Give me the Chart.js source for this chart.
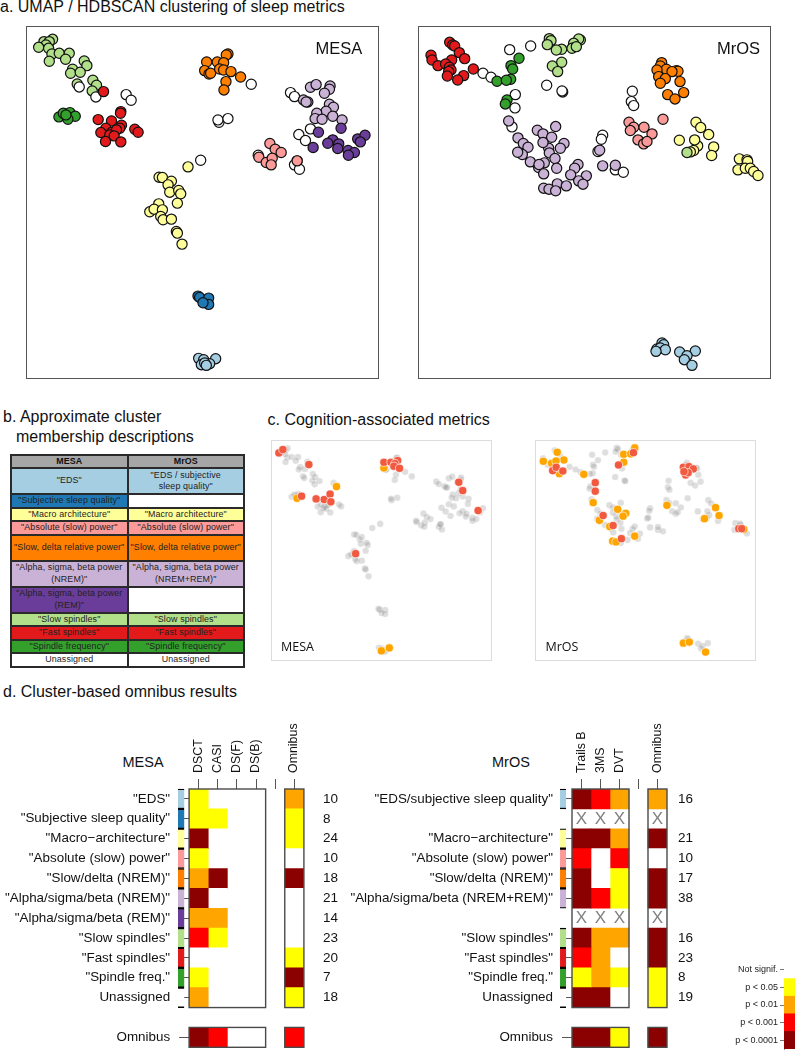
<!DOCTYPE html>
<html>
<head>
<meta charset="utf-8">
<title>Sleep metric clusters</title>
<script src="https://cdn.jsdelivr.net/npm/chart.js@4"></script>
<style>
  html, body { margin: 0; padding: 0; background: #fff; overflow: hidden; }
  body { width: 795px; height: 1050px; position: relative; font-family: "Liberation Sans", Arial, sans-serif; color: #111; }
  .txt { position: absolute; white-space: nowrap; line-height: 1; }
  .head { font-size: 16px; }
  .box { position: absolute; box-sizing: border-box; }
  canvas { position: absolute; }
  #members { position: absolute; left: 10px; top: 453.5px; width: 235px; border-collapse: collapse; table-layout: fixed; font-size: 8.9px; letter-spacing: 0.12px; }
  #members td, #members th { border: 2px solid #2a2a2a; padding: 0; text-align: center; line-height: 11.5px; height: 11px; color: #222; }
  #members th { background: #a6a6a6; font-weight: bold; color: #111; }
  #members tr.tall td { height: 24px; }
</style>
</head>
<body>
<div class="txt head" style="left:0;top:-1px">a. UMAP / HDBSCAN clustering of sleep metrics</div>
<div class="txt head" style="left:3px;top:409px">b. Approximate cluster</div>
<div class="txt head" style="left:16px;top:429px">membership descriptions</div>
<div class="txt head" style="left:267.5px;top:412px">c. Cognition-associated metrics</div>
<div class="txt head" style="left:3px;top:684px">d. Cluster-based omnibus results</div>

<div class="box" style="left:25.5px;top:25.5px;width:353.5px;height:353.5px;border:1.3px solid #555"></div>
<div class="box" style="left:417.5px;top:25.5px;width:353.5px;height:353.5px;border:1.3px solid #555"></div>
<canvas id="mesaMap" width="352" height="352" style="left:26px;top:26px"></canvas>
<canvas id="mrosMap" width="353" height="352" style="left:418px;top:26px"></canvas>
<div class="txt" style="left:315.5px;top:40px;font-size:16.5px">MESA</div>
<div class="txt" style="left:717px;top:40px;font-size:16.5px">MrOS</div>

<table id="members"></table>

<div class="box" style="left:270.5px;top:439.5px;width:221px;height:221px;border:1px solid #dcdcdc"></div>
<div class="box" style="left:534.5px;top:439.5px;width:221px;height:221px;border:1px solid #dcdcdc"></div>
<canvas id="mesaCog" width="220" height="220" style="left:271px;top:440px"></canvas>
<canvas id="mrosCog" width="220" height="220" style="left:535px;top:440px"></canvas>
<div class="txt" style="left:281px;top:641px;font-size:12.5px;font-family:'Open Sans'">MESA</div>
<div class="txt" style="left:545.5px;top:641px;font-size:12.5px;font-family:'Open Sans'">MrOS</div>

<div class="txt" style="left:122.5px;top:755px;font-size:14.5px">MESA</div>
<div class="txt" style="left:492px;top:755px;font-size:14.5px">MrOS</div>
<canvas id="mesaHeat" width="360" height="378" style="left:0;top:700px"></canvas>
<canvas id="mrosHeat" width="430" height="378" style="left:330px;top:700px"></canvas>
<canvas id="pLegend" width="120" height="110" style="left:690px;top:950px"></canvas>

<script>
// Map coordinates (same units for panels a and c)
const mesaLightGreen = [[232,252],[132,125],[158,118],[148,125],[138,135],[116,142],[146,145],[156,162],[178,160],[208,160],[148,184],[197,178],[253,183],[261,197],[218,208],[212,220],[241,217],[279,241],[290,256],[277,273]];
const mesaWhite = [[238,261],[288,291],[379,284],[394,301],[755,253],[658,367],[655,360],[685,356],[603,481],[776,466],[873,278],[885,290],[933,387],[898,404],[918,422],[893,483],[885,495],[900,508]];
const mesaRed = [[311,275],[295,359],[363,335],[362,340],[335,363],[318,385],[303,398],[365,376],[360,385],[335,398],[350,390],[330,405],[343,408],[317,425],[363,426],[405,388],[415,397]];
const mesaDarkGreen = [[177,351],[190,340],[210,338],[226,349],[204,358],[198,345]];
const mesaOrange = [[685,162],[621,186],[615,212],[628,222],[633,220],[653,186],[680,165],[672,188],[660,207],[672,210],[694,215],[723,231],[679,245],[673,270]];
const mesaLilac = [[933,262],[950,254],[992,258],[990,268],[975,280],[912,300],[925,306],[920,306],[990,313],[1002,322],[980,334],[952,340],[947,356],[968,358],[1000,349],[1028,360]];
const mesaPurple = [[1025,385],[957,397],[1000,420],[985,430],[1018,432],[1015,446],[941,443],[1046,452],[1065,458],[1047,466],[1075,417],[1097,406],[1083,426]];
const mesaPink = [[811,431],[827,448],[845,458],[778,472],[800,488],[818,475],[815,495],[893,483]];
const mesaYellow = [[565,501],[478,532],[488,533],[515,544],[505,555],[510,577],[537,572],[543,582],[533,610],[477,612],[450,636],[463,628],[488,630],[483,650],[490,660],[515,658],[530,695],[533,700],[547,733]];
const mesaBlue = [[595,889],[600,893],[627,895],[627,914],[610,909]];
const mesaLightBlue = [[597,1076],[612,1080],[648,1077],[630,1092],[605,1095],[615,1090],[620,1097]];

const mrosRed = [[148,127],[157,135],[163,138],[177,158],[92,166],[95,180],[193,176],[154,180],[113,197],[136,192],[147,202],[152,210],[145,215],[141,228],[190,227],[172,240],[219,207]];
const mrosWhite = [[328,149],[391,138],[248,220],[272,232],[345,284],[344,324],[335,381],[439,256],[487,276],[485,273],[696,274],[693,305],[700,317],[607,406],[603,418],[593,455],[645,510],[669,517]];
const mrosDarkGreen = [[356,175],[332,197],[337,207],[331,238],[290,244],[318,241],[320,300],[315,312]];
const mrosLightGreen = [[447,116],[452,122],[441,134],[484,148],[468,150],[540,120],[535,117],[520,130],[515,145],[528,140],[484,187],[456,198],[472,215]];
const mrosOrange = [[784,188],[780,198],[798,208],[770,210],[828,212],[833,214],[815,215],[775,230],[795,236],[780,250],[839,245],[850,278],[802,284],[824,297]];
const mrosPink = [[686,367],[700,382],[690,392],[731,382],[788,358],[755,402],[713,420],[730,432],[740,425]];
const mrosYellow = [[887,367],[901,383],[925,404],[837,421],[892,438],[883,420],[880,452],[870,456],[940,441],[934,467],[1017,477],[1040,480],[1042,485],[1013,510],[1035,505],[1050,505],[1060,515],[1073,527]];
const mrosYellowGreen = [[860,458]];
const mrosLilac = [[325,363],[411,391],[466,380],[428,402],[454,412],[353,414],[369,431],[383,442],[445,445],[428,428],[491,431],[480,445],[366,464],[352,457],[447,459],[464,476],[390,486],[432,489],[415,503],[416,494],[469,505],[430,522],[533,494],[523,505],[511,525],[558,528],[535,543],[548,553],[598,451],[607,498],[645,496],[471,552],[498,558],[430,565],[446,568],[466,573]];
const mrosLightBlue = [[785,1030],[790,1035],[770,1048],[780,1045],[795,1050],[767,1055],[838,1057],[885,1054],[860,1068],[852,1080],[875,1097]];

// Cognition-associated points in panel c
const mesaCogOrange = [[393,302],[203,358],[621,212],[609,1091],[647,1077]];
const mesaCogRed = [[116,140],[135,124],[260,196],[225,348],[295,361],[334,364],[362,338],[366,375],[485,624],[621,185],[655,185],[687,177],[674,191],[669,204],[696,214],[981,281],[1000,321],[1074,417]];
const mrosCogOrange = [[93,180],[160,137],[192,174],[133,190],[154,179],[170,240],[288,243],[333,379],[451,411],[490,430],[477,444],[363,464],[413,494],[427,564],[443,568],[533,540],[688,392],[922,403],[939,441],[869,456],[480,147],[480,185],[533,116],[514,145],[767,1054],[796,1049],[874,1097],[1058,507]];
const mrosCogRed = [[343,283],[343,324],[455,198],[527,139],[381,441],[429,489],[469,552],[138,225],[155,209],[187,227],[767,209],[794,206],[815,217],[778,246],[790,235],[770,230],[1034,504],[1048,504]];

// Cluster colours
const clrLightBlue = '#a6cee3', clrBlue = '#1f78b4', clrYellow = '#ffff99', clrPink = '#fb9a99', clrOrange = '#ff7f00';
const clrLilac = '#cab2d6', clrPurple = '#6a3d9a', clrLightGreen = '#b2df8a', clrRed = '#e31a1c', clrGreen = '#33a02c';

// Panel b table: [MESA text, MESA colour, MrOS text, MrOS colour, tall row]
const memberRows = [
  ['"EDS"', clrLightBlue, '"EDS / subjective<br>sleep quality"', clrLightBlue, true],
  ['"Subjective sleep quality"', clrBlue, '', '#fff', false],
  ['"Macro architecture"', clrYellow, '"Macro architecture"', clrYellow, false],
  ['"Absolute (slow) power"', clrPink, '"Absolute (slow) power"', clrPink, false],
  ['"Slow, delta relative power"', clrOrange, '"Slow, delta relative power"', clrOrange, true],
  ['"Alpha, sigma, beta power<br>(NREM)"', clrLilac, '"Alpha, sigma, beta power<br>(NREM+REM)"', clrLilac, true],
  ['"Alpha, sigma, beta power<br>(REM)"', clrPurple, '', '#fff', true],
  ['"Slow spindles"', clrLightGreen, '"Slow spindles"', clrLightGreen, false],
  ['"Fast spindles"', clrRed, '"Fast spindles"', clrRed, false],
  ['"Spindle frequency"', clrGreen, '"Spindle frequency"', clrGreen, false],
  ['Unassigned', '#fff', 'Unassigned', '#fff', false]
];

// Panel d: significance level per row (0 none, 1 p<.05, 2 p<.01, 3 p<.001, 4 p<.0001, null = no cell)
const mesaRows = ['"EDS"', '"Subjective sleep quality"', '"Macro\u2212architecture"', '"Absolute (slow) power"', '"Slow/delta (NREM)"', '"Alpha/sigma/beta (NREM)"', '"Alpha/sigma/beta (REM)"', '"Slow spindles"', '"Fast spindles"', '"Spindle freq."', 'Unassigned', '', 'Omnibus'];
const mesaCounts = ['10', '8', '24', '10', '18', '21', '14', '23', '20', '7', '18', '', ''];
const mesaColumns = ['DSCT', 'CASI', 'DS(F)', 'DS(B)', '', 'Omnibus'];
const mesaDSCT = [1, 1, 4, 1, 2, 4, 2, 3, 0, 1, 2, null, 4];
const mesaCASI = [0, 1, 0, 0, 4, 0, 2, 1, 0, 0, 0, null, 3];
const mesaDSF = [0, 0, 0, 0, 0, 0, 0, 0, 0, 0, 0, null, 0];
const mesaDSB = [0, 0, 0, 0, 0, 0, 0, 0, 0, 0, 0, null, 0];
const mesaOmnibus = [2, 1, 1, 0, 4, 0, 0, 0, 1, 4, 1, null, 3];
const mesaStrip = [clrLightBlue, clrBlue, clrYellow, clrPink, clrOrange, clrLilac, clrPurple, clrLightGreen, clrRed, clrGreen, '#fff', null, null];

const mrosRows = ['"EDS/subjective sleep quality"', '', '"Macro\u2212architecture"', '"Absolute (slow) power"', '"Slow/delta (NREM)"', '"Alpha/sigma/beta (NREM+REM)"', '', '"Slow spindles"', '"Fast spindles"', '"Spindle freq."', 'Unassigned', '', 'Omnibus'];
const mrosCounts = ['16', '', '21', '10', '17', '38', '', '16', '23', '8', '19', '', ''];
const mrosColumns = ['Trails B', '3MS', 'DVT', '', 'Omnibus'];
const mrosTrails = [4, null, 4, 3, 4, 4, null, 4, 3, 1, 4, null, 4];
const mros3MS = [3, null, 4, 0, 0, 3, null, 2, 2, 2, 4, null, 4];
const mrosDVT = [2, null, 2, 3, 1, 1, null, 2, 0, 1, 0, null, 1];
const mrosOmnibus = [2, null, 4, 0, 4, 4, null, 4, 4, 1, 1, null, 4];
const mrosStrip = [clrLightBlue, null, clrYellow, clrPink, clrOrange, clrLilac, null, clrLightGreen, clrRed, clrGreen, '#fff', null, null];
const mrosMissingRows = [1, 6];

const pLabels = ['Not signif.', 'p < 0.05', 'p < 0.01', 'p < 0.001', 'p < 0.0001'];
const pColors = ['#ffffff', '#ffff00', '#ffa500', '#ff0000', '#8b0000'];

const baseFont = '"Liberation Sans", Arial, sans-serif';

// Panel b
document.getElementById('members').innerHTML =
  '<tr><th>MESA</th><th>MrOS</th></tr>' +
  memberRows.map(r => `<tr class="${r[4] ? 'tall' : ''}"><td style="background:${r[1]}">${r[0]}</td><td style="background:${r[3]}">${r[2]}</td></tr>`).join('');

function xy(list) {
  return list.map(p => ({ x: p[0], y: p[1] }));
}

function mapOptions(xMin, xMax) {
  return {
    responsive: false,
    animation: false,
    layout: { padding: 0, autoPadding: false },
    plugins: { legend: { display: false }, tooltip: { enabled: false } },
    scales: {
      x: { type: 'linear', min: xMin, max: xMax, display: false },
      y: { type: 'linear', min: 78, max: 1135, reverse: true, display: false }
    }
  };
}

// Panel a (clusters listed bottom to top, the library draws dataset 0 last)
function clusterChart(id, xMin, xMax, clusters) {
  new Chart(document.getElementById(id), {
    type: 'scatter',
    data: {
      datasets: clusters.slice().reverse().map(c => ({
        data: xy(c[0]),
        backgroundColor: c[1],
        borderColor: '#111',
        borderWidth: 1.2,
        pointRadius: 5.1,
        clip: false
      }))
    },
    options: mapOptions(xMin, xMax)
  });
}

clusterChart('mesaMap', 78, 1136, [
  [mesaLightGreen, clrLightGreen], [mesaWhite, '#fff'], [mesaRed, clrRed], [mesaDarkGreen, clrGreen],
  [mesaOrange, clrOrange], [mesaLilac, clrLilac], [mesaPurple, clrPurple], [mesaPink, clrPink],
  [mesaYellow, clrYellow], [mesaBlue, clrBlue], [mesaLightBlue, clrLightBlue]
]);
clusterChart('mrosMap', 53, 1112, [
  [mrosWhite, '#fff'], [mrosRed, clrRed], [mrosDarkGreen, clrGreen], [mrosLightGreen, clrLightGreen],
  [mrosOrange, clrOrange], [mrosPink, clrPink], [mrosYellow, clrYellow], [mrosYellowGreen, clrLightGreen],
  [mrosLilac, clrLilac], [mrosLightBlue, clrLightBlue]
]);

// Panel c
function cognitionChart(id, xMin, xMax, background, orange, red) {
  new Chart(document.getElementById(id), {
    type: 'scatter',
    data: {
      datasets: [
        { data: xy(red), backgroundColor: '#f15a40', borderColor: 'rgba(255,255,255,0.9)', borderWidth: 0.7, pointRadius: 4.1 },
        { data: xy(orange), backgroundColor: '#ffa500', borderColor: 'rgba(255,255,255,0.9)', borderWidth: 0.7, pointRadius: 4.1 },
        { data: xy(background), backgroundColor: 'rgba(105,105,105,0.22)', borderColor: 'rgba(255,255,255,0.5)', borderWidth: 0.5, pointRadius: 3.3 }
      ]
    },
    options: mapOptions(xMin, xMax)
  });
}

cognitionChart('mesaCog', 78, 1136,
  [].concat(mesaLightGreen, mesaWhite, mesaRed, mesaDarkGreen, mesaOrange, mesaLilac, mesaPurple, mesaPink, mesaYellow, mesaBlue, mesaLightBlue),
  mesaCogOrange, mesaCogRed);
cognitionChart('mrosCog', 53, 1112,
  [].concat(mrosWhite, mrosRed, mrosDarkGreen, mrosLightGreen, mrosOrange, mrosPink, mrosYellow, mrosYellowGreen, mrosLilac, mrosLightBlue),
  mrosCogOrange, mrosCogRed);

// Outlines and X marks of the heatmaps
const heatOverlay = {
  id: 'heatOverlay',
  afterDatasetsDraw(chart, args, opts) {
    const { ctx, scales: { x, y } } = chart;
    ctx.save();
    ctx.strokeStyle = '#4a4a4a';
    ctx.lineWidth = 1.4;
    opts.blocks.forEach(b => {
      const left = x.getPixelForValue(b[0]), right = x.getPixelForValue(b[1]);
      const top = y.getPixelForValue(b[2] - 0.5), bottom = y.getPixelForValue(b[3] - 0.5);
      ctx.strokeRect(left, top, right - left, bottom - top);
    });
    ctx.fillStyle = '#808080';
    ctx.font = '17px ' + baseFont;
    ctx.textAlign = 'center';
    ctx.textBaseline = 'middle';
    opts.missing.forEach(row => {
      opts.dataColumns.forEach(col => {
        ctx.fillText('X', x.getPixelForValue(col + 0.5), y.getPixelForValue(row) + 0.5);
      });
    });
    ctx.restore();
  }
};

// Panel d
function heatChart(id, cfg) {
  const cellSets = cfg.columns.map(col => ({
    data: col.values.map(v => (v === null ? null : [col.at, col.at + 1])),
    backgroundColor: col.values.map(v => (v === null ? '#fff' : pColors[v])),
    borderWidth: 0
  }));
  const stripSet = {
    data: cfg.strip.map(c => (c ? cfg.stripRange : null)),
    backgroundColor: cfg.strip,
    borderColor: '#000',
    borderWidth: { top: 1.4, bottom: 1.4, left: 0, right: 0 },
    borderSkipped: false,
    clip: false
  };
  new Chart(document.getElementById(id), {
    type: 'bar',
    data: { labels: cfg.rows, datasets: [stripSet].concat(cellSets) },
    plugins: [heatOverlay],
    options: {
      indexAxis: 'y',
      responsive: false,
      animation: false,
      // the count axis padding also reserves room under the plot, so the canvas runs past the page bottom
      layout: { padding: { top: 0, bottom: 30.7, left: 0, right: 0 } },
      datasets: { bar: { barPercentage: 1, categoryPercentage: 1, grouped: false } },
      plugins: {
        legend: { display: false },
        tooltip: { enabled: false },
        heatOverlay: { blocks: cfg.blocks, missing: cfg.missing, dataColumns: cfg.dataColumns }
      },
      scales: {
        x: {
          type: 'linear',
          position: 'top',
          min: 0,
          max: cfg.labels.length,
          afterFit: s => { s.height = 89; },
          afterBuildTicks: s => { s.ticks = cfg.labels.map((l, i) => ({ value: i + 0.5 })); },
          border: { display: false },
          grid: { drawOnChartArea: false, tickLength: 10, tickColor: '#555', tickWidth: 1 },
          ticks: {
            autoSkip: false,
            minRotation: 90,
            maxRotation: 90,
            padding: 6,
            labelOffset: 14.5,
            color: '#111',
            font: { family: baseFont, size: 12.4 },
            callback: (v, i) => cfg.labels[i]
          }
        },
        y: {
          type: 'category',
          position: 'left',
          offset: true,
          afterFit: s => { s.width = cfg.left; },
          border: { display: false },
          grid: {
            offset: false,
            drawOnChartArea: false,
            tickLength: 10,
            tickWidth: 1,
            tickColor: c => (cfg.rows[c.index] ? '#555' : 'rgba(0,0,0,0)')
          },
          ticks: { autoSkip: false, padding: 9, color: '#111', font: { family: baseFont, size: 13.4 } }
        },
        y2: {
          type: 'category',
          labels: cfg.counts,
          position: 'right',
          offset: true,
          afterFit: s => { s.width = cfg.right; },
          border: { display: false },
          grid: { display: false, drawTicks: false, offset: false },
          ticks: { autoSkip: false, padding: cfg.countPad, color: '#111', font: { family: baseFont, size: 13.5 } }
        }
      }
    }
  });
}

heatChart('mesaHeat', {
  rows: mesaRows,
  counts: mesaCounts,
  labels: mesaColumns,
  left: 189.1,
  right: 56.1,
  countPad: 19,
  strip: mesaStrip,
  stripRange: [-0.58, -0.25],
  missing: [],
  dataColumns: [],
  blocks: [[0, 4, 0, 11], [0, 4, 12, 13], [5, 6, 0, 11], [5, 6, 12, 13]],
  columns: [
    { at: 0, values: mesaDSCT }, { at: 1, values: mesaCASI }, { at: 2, values: mesaDSF },
    { at: 3, values: mesaDSB }, { at: 5, values: mesaOmnibus }
  ]
});

heatChart('mrosHeat', {
  rows: mrosRows,
  counts: mrosCounts,
  labels: mrosColumns,
  left: 242,
  right: 93,
  countPad: 11,
  strip: mrosStrip,
  stripRange: [-0.63, -0.31],
  missing: mrosMissingRows,
  dataColumns: [0, 1, 2, 4],
  blocks: [[0, 3, 0, 11], [0, 3, 12, 13], [4, 5, 0, 11], [4, 5, 12, 13]],
  columns: [
    { at: 0, values: mrosTrails }, { at: 1, values: mros3MS }, { at: 2, values: mrosDVT }, { at: 4, values: mrosOmnibus }
  ]
});

// p value colour key
new Chart(document.getElementById('pLegend'), {
  type: 'bar',
  data: {
    labels: pLabels,
    datasets: [{ data: pLabels.map(() => [0, 1]), backgroundColor: pColors, borderWidth: 0 }]
  },
  options: {
    indexAxis: 'y',
    responsive: false,
    animation: false,
    layout: { padding: { top: 11, bottom: 11, left: 0, right: 0 } },
    datasets: { bar: { barPercentage: 1, categoryPercentage: 1 } },
    plugins: { legend: { display: false }, tooltip: { enabled: false } },
    scales: {
      x: { type: 'linear', min: 0, max: 1, display: false },
      y: {
        type: 'category',
        offset: true,
        afterFit: s => { s.width = 94; },
        border: { color: '#999', width: 1 },
        grid: { offset: false, drawOnChartArea: false, tickLength: 4, tickColor: '#777', tickWidth: 1 },
        ticks: { autoSkip: false, padding: 2, color: '#222', font: { family: baseFont, size: 9 } }
      }
    }
  }
});
</script>
</body>
</html>
